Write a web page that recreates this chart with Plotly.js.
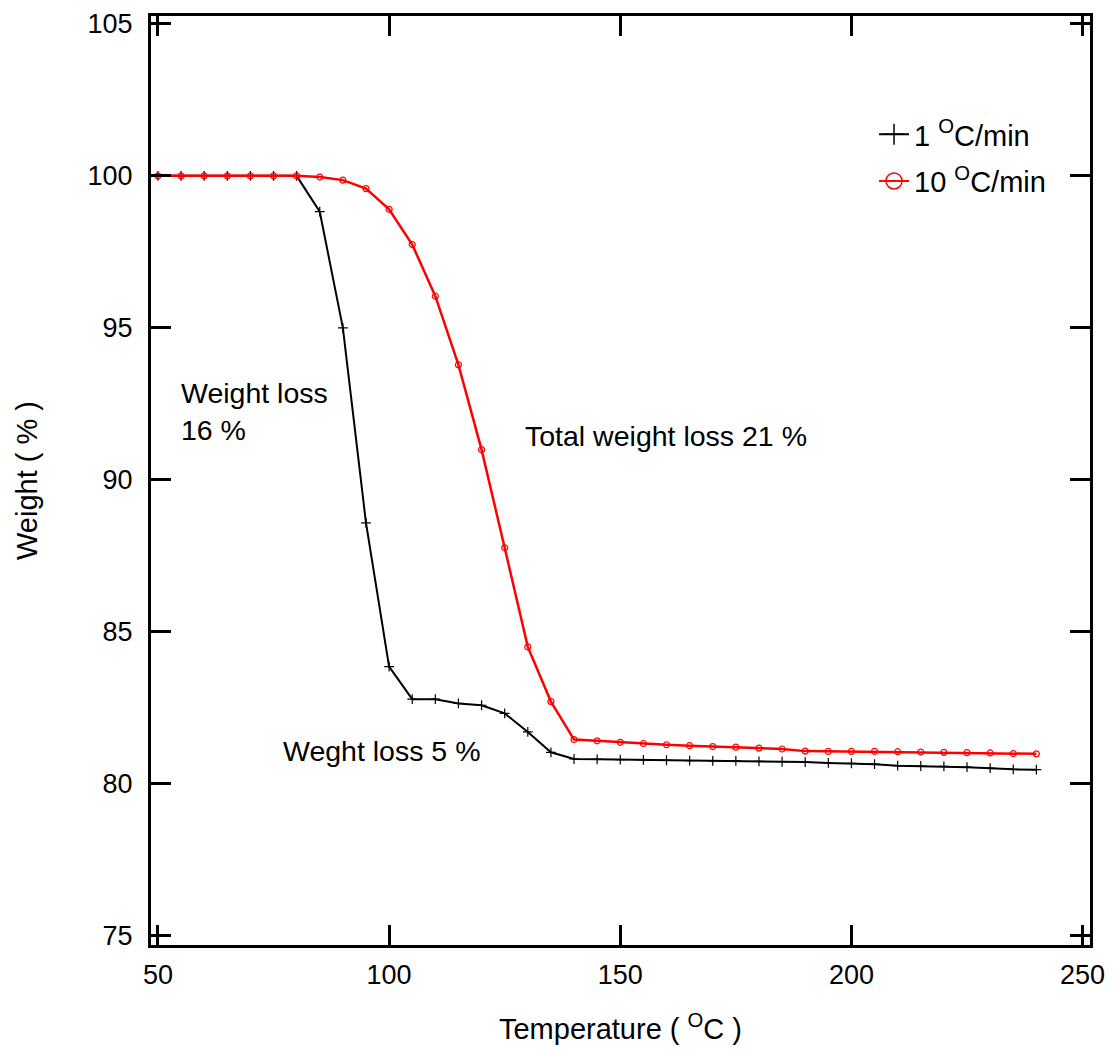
<!DOCTYPE html>
<html>
<head>
<meta charset="utf-8">
<script src="https://cdn.plot.ly/plotly-3.0.1.min.js"></script>
<style>html,body{margin:0;padding:0;background:#fff;}</style>
</head>
<body>
<div id="chart" style="width:1113px;height:1055px;"></div>
<script>
var temperature = [50,55,60,65,70,75,80,85,90,95,100,105,110,115,120,125,130,135,140,145,150,155,160,165,170,175,180,185,190,195,200,205,210,215,220,225,230,235,240];
var weight1 = [100,100,100,100,100,100,100,98.82,95.0,88.58,83.85,82.78,82.78,82.64,82.58,82.31,81.70,81.03,80.81,80.80,80.79,80.78,80.77,80.76,80.75,80.75,80.73,80.72,80.71,80.68,80.67,80.64,80.59,80.58,80.57,80.54,80.51,80.47,80.46];
var weight10 = [100,100,100,100,100,100,100,99.96,99.86,99.58,98.90,97.74,96.04,93.78,90.99,87.76,84.50,82.70,81.45,81.41,81.36,81.32,81.28,81.25,81.22,81.20,81.17,81.14,81.07,81.06,81.06,81.06,81.05,81.04,81.03,81.02,81.01,80.99,80.98];
var seriesNames = ['1 <sup>O</sup>C/min', '10 <sup>O</sup>C/min'];
var xTicks = [50,100,150,200,250];
var yTicks = [75,80,85,90,95,100,105];

var FONT = 'Liberation Sans';

var traces = [
  {x: temperature, y: weight1, mode: 'lines+markers', showlegend: false,
   line: {color: '#000000', width: 2},
   marker: {symbol: 'cross-thin', size: 7, line: {color: '#000000', width: 1.2}}},
  {x: temperature, y: weight10, mode: 'lines+markers', showlegend: false,
   line: {color: '#ff0000', width: 2.5},
   marker: {symbol: 'circle-open', size: 6, color: '#ff0000', line: {color: '#ff0000', width: 1.2}}},
  {x: [null], y: [null], mode: 'lines+markers', name: seriesNames[0], legendgroup: 'a',
   line: {color: '#000000', width: 2},
   marker: {symbol: 'cross-thin', size: 15, line: {color: '#000000', width: 1.5}}},
  {x: [null], y: [null], mode: 'lines+markers', name: seriesNames[1], legendgroup: 'b',
   line: {color: '#ff0000', width: 2},
   marker: {symbol: 'circle-open', size: 17, color: '#ff0000', line: {color: '#ff0000', width: 1.5}}}
];

var axisCommon = {
  showline: true, linewidth: 3, linecolor: '#000000', mirror: 'ticks',
  ticks: 'inside', ticklen: 20, tickwidth: 3, tickcolor: '#000000',
  showgrid: false, zeroline: false,
  tickfont: {family: FONT, size: 27, color: '#000000'}
};

var layout = {
  width: 1113, height: 1055,
  margin: {l: 151, r: 23, t: 16, b: 110},
  paper_bgcolor: '#ffffff', plot_bgcolor: '#ffffff',
  font: {family: FONT, size: 27, color: '#000000'},
  xaxis: Object.assign({}, axisCommon, {
    range: [48.5, 251.6], tickvals: xTicks, ticktext: xTicks.map(String),
    ticklabelstandoff: 4,
    title: {text: 'Temperature ( <sup>O</sup>C )', font: {family: FONT, size: 29, color: '#000000'}, standoff: 30}
  }),
  yaxis: Object.assign({}, axisCommon, {
    range: [74.69, 105.26], tickvals: yTicks, ticktext: yTicks.map(String),
    ticklabelstandoff: 10,
    title: {text: 'Weight ( % )', font: {family: FONT, size: 29, color: '#000000'}, standoff: 42}
  }),
  legend: {
    x: 0.77, y: 0.9, xanchor: 'left', yanchor: 'top',
    bgcolor: 'rgba(0,0,0,0)', borderwidth: 0,
    font: {family: FONT, size: 29, color: '#000000'},
    tracegroupgap: 6
  },
  annotations: [
    {xref: 'x', yref: 'y', x: 54.6, y: 92.24, text: 'Weight loss<br>16 %', showarrow: false,
     xanchor: 'left', yanchor: 'middle', align: 'left', font: {family: FONT, size: 28.5, color: '#000000'}},
    {xref: 'x', yref: 'y', x: 159.9, y: 91.45, text: 'Total weight loss 21 %', showarrow: false,
     xanchor: 'center', yanchor: 'middle', font: {family: FONT, size: 28.5, color: '#000000'}},
    {xref: 'x', yref: 'y', x: 98.4, y: 81.09, text: 'Weght loss 5 %', showarrow: false,
     xanchor: 'center', yanchor: 'middle', font: {family: FONT, size: 28.5, color: '#000000'}}
  ]
};

Plotly.newPlot('chart', traces, layout, {displayModeBar: false, staticPlot: true});
</script>
</body>
</html>
